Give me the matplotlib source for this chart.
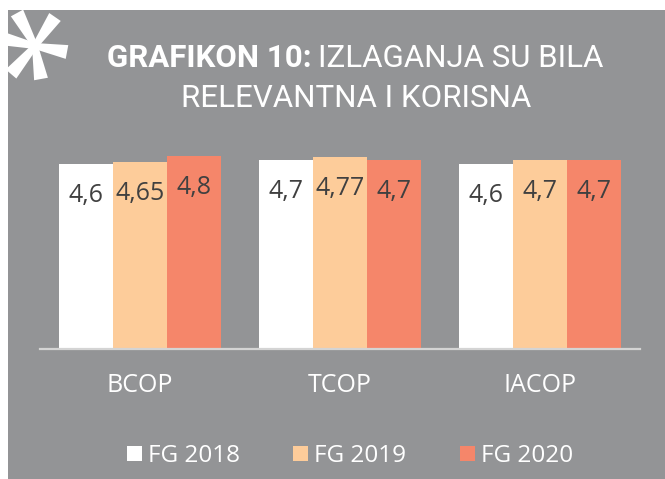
import matplotlib
matplotlib.use("Agg")
import matplotlib.pyplot as plt
from matplotlib.patches import Rectangle, Polygon
import numpy as np

categories = ["BCOP", "TCOP", "IACOP"]
series = ["FG 2018", "FG 2019", "FG 2020"]
fg2018 = [4.6, 4.7, 4.6]
fg2019 = [4.65, 4.77, 4.7]
fg2020 = [4.8, 4.7, 4.7]
values = [fg2018, fg2019, fg2020]
labels = [["4,6", "4,7", "4,6"], ["4,65", "4,77", "4,7"], ["4,8", "4,7", "4,7"]]

W, H = 665, 479
bg = "#939496"
colors = ["#ffffff", "#fdcc9a", "#f5866a"]

plt.rcParams["font.family"] = ["Open Sans", "DejaVu Sans"]

fig = plt.figure(figsize=(W / 100, H / 100), dpi=100)
fig.patch.set_facecolor("white")


def fx(x):
    return x / W


def fy(y):
    return 1 - y / H


# grey panel
fig.add_artist(Rectangle((fx(8), 0), 1, fy(10), transform=fig.transFigure,
                         facecolor=bg, edgecolor="none", zorder=0))

# asterisk
cx, cy = 35, 46
tips = [(17, 13), (55, 17), (67, 52), (41, 79), (11, 74), (0, 38)]
for tx, ty in tips:
    d = np.array([tx - cx, ty - cy], float)
    n = np.array([-d[1], d[0]]) / np.hypot(*d)
    p = [(cx + n[0] * 3, cy + n[1] * 3), (cx - n[0] * 3, cy - n[1] * 3),
         (tx - n[0] * 7, ty - n[1] * 7), (tx + n[0] * 7, ty + n[1] * 7)]
    fig.add_artist(Polygon([(fx(a), fy(b)) for a, b in p], closed=True,
                           transform=fig.transFigure, facecolor="white",
                           edgecolor="none", zorder=3))

# title
tfont = ["Roboto", "DejaVu Sans"]
t1 = fig.text(fx(107), fy(67), "GRAFIKON 10:", color="white", fontsize=22.5,
              fontweight="bold", family=tfont, ha="left", va="baseline")
fig.canvas.draw()
bb = t1.get_window_extent()
fig.text(bb.x1 / W + fx(6), fy(67), "IZLAGANJA SU BILA", color="white",
         fontsize=22.5, family=tfont, ha="left", va="baseline")
fig.text(fx(356), fy(107), "RELEVANTNA I KORISNA", color="white",
         fontsize=22.5, family=tfont, ha="center", va="baseline")

# axes
ppu = 40.3
ymax = 5.2
ax = fig.add_axes([fx(40), fy(349), fx(600), ymax * ppu / H])
ax.set_facecolor("none")
x = np.arange(len(categories))
bw = 0.27
for i, (vals, c) in enumerate(zip(values, colors)):
    pos = x + (i - 1) * bw
    ax.bar(pos, vals, width=bw, color=c, edgecolor="none", zorder=2)
    for px, v, lab in zip(pos, vals, labels[i]):
        ax.annotate(lab, (px, v), xytext=(0, -38), textcoords="offset pixels",
                    ha="center", va="baseline", fontsize=18, color="#404040",
                    zorder=3)

ax.set_xlim(-0.5, 2.5)
ax.set_ylim(0, ymax)
for s in ["top", "right", "left"]:
    ax.spines[s].set_visible(False)
ax.spines["bottom"].set_color("#d4d4d4")
ax.spines["bottom"].set_linewidth(1.6)
ax.set_yticks([])
ax.set_xticks(x)
ax.set_xticklabels(categories, color="white", fontsize=18)
ax.tick_params(axis="x", length=0, pad=17)

# legend
lx = [127, 293, 460]
for name, c, l in zip(series, colors, lx):
    fig.add_artist(Rectangle((fx(l), fy(461)), fx(15), 15 / H,
                             transform=fig.transFigure, facecolor=c,
                             edgecolor="none"))
    fig.text(fx(l + 21), fy(462), name, color="white", fontsize=17.5,
             ha="left", va="baseline")

fig.savefig("out.png", dpi=100, facecolor=fig.get_facecolor())
